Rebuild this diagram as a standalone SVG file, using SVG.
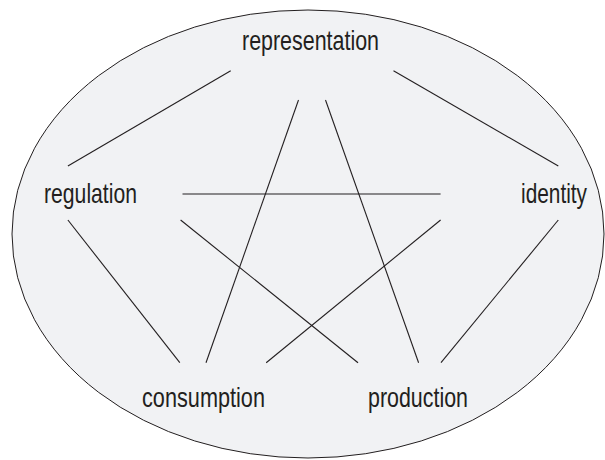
<svg xmlns="http://www.w3.org/2000/svg" width="605" height="460" viewBox="0 0 605 460">
<style>
.bg{fill:#f1f2f4;stroke:#231f20;stroke-width:1}
.lbl{font-family:"Liberation Sans Narrow","Liberation Sans",Arial,sans-serif;font-size:28px;fill:#231f20}
.edge{stroke:#231f20;stroke-width:1.1;fill:none}
</style>
<ellipse class="bg" cx="308" cy="234" rx="296" ry="224"/>
<g id="connectors">
<line class="edge" x1="230.7" y1="70.7" x2="67.9" y2="166"/>
<line class="edge" x1="393.5" y1="70.7" x2="558.3" y2="166"/>
<line class="edge" x1="298.5" y1="100" x2="206" y2="362.7"/>
<line class="edge" x1="325.5" y1="100" x2="418.6" y2="362.7"/>
<line class="edge" x1="182.5" y1="194" x2="440.6" y2="194"/>
<line class="edge" x1="180.6" y1="220" x2="358" y2="362.7"/>
<line class="edge" x1="440.6" y1="220" x2="266.2" y2="362.7"/>
<line class="edge" x1="67.9" y1="220" x2="179.8" y2="362.7"/>
<line class="edge" x1="558.3" y1="220" x2="441" y2="362.7"/>
</g>
<g id="representation"><text class="lbl" x="242" y="50" textLength="137" lengthAdjust="spacingAndGlyphs">representation</text></g>
<g id="regulation"><text class="lbl" x="44" y="203" textLength="93" lengthAdjust="spacingAndGlyphs">regulation</text></g>
<g id="identity"><text class="lbl" x="521" y="203" textLength="66" lengthAdjust="spacingAndGlyphs">identity</text></g>
<g id="consumption"><text class="lbl" x="142" y="407" textLength="123" lengthAdjust="spacingAndGlyphs">consumption</text></g>
<g id="production"><text class="lbl" x="368" y="407" textLength="100" lengthAdjust="spacingAndGlyphs">production</text></g>
</svg>
